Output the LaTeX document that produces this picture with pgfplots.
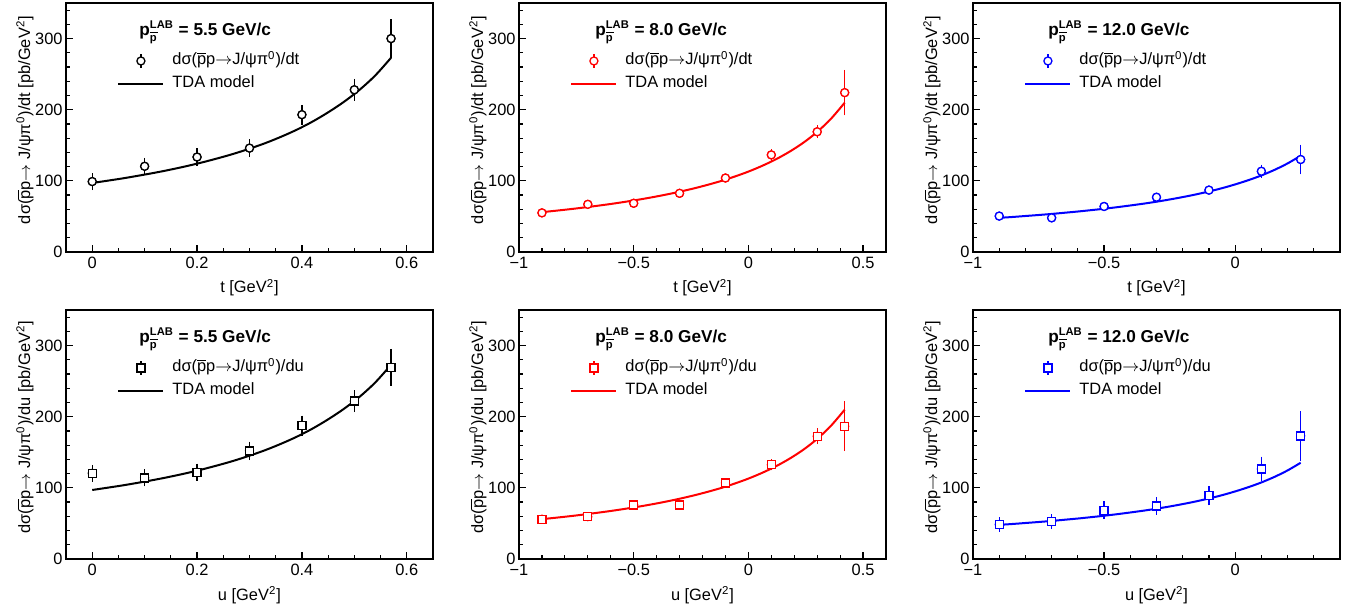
\documentclass[border=0pt]{standalone}
\usepackage{fontspec}
\setmainfont{Liberation Sans}
\usepackage{pgfplots}
\usepackage{pgfplotstable}
\pgfplotsset{compat=1.18}

\newcommand{\pbar}{\ensuremath{\overline{\mbox{p}}}}
\newcommand{\sm}{\fontsize{5.6}{6}\selectfont}
\newcommand{\arr}{\ensuremath{\rightarrow}}
\newcommand{\ylab}[1]{dσ(\pbar p\arr{} J/ψπ\textsuperscript{0})/d#1 [pb/GeV\textsuperscript{2}]}
\newcommand{\legtxt}[1]{dσ(\pbar p\arr J/ψπ\textsuperscript{0})/d#1}
\newcommand{\ttl}[1]{\fontsize{8.6}{10}\selectfont\bfseries p$^{\mbox{\sm\bfseries LAB}}_{\overline{\mbox{\sm\bfseries p}}}$ = #1 GeV/c}

\pgfplotstableread{
x y e
0 99 10
0.1 120.5 10
0.2 133.5 10.5
0.3 146 10.5
0.4 193 12
0.5 228 13.5
0.57 300 25
}\dtA
\pgfplotstableread{
x y e
-0.9 55 3
-0.7 67 3
-0.5 68.5 3
-0.3 82.5 3
-0.1 104 3.5
0.1 136.5 6
0.3 169 7
0.42 224 30
}\dtB
\pgfplotstableread{
x y e
-0.9 50.5 3
-0.7 48 3
-0.5 64 3
-0.3 77 3
-0.1 87 3.5
0.1 113.5 7.5
0.25 130 19
}\dtC
\pgfplotstableread{
x y e
0 120.5 10
0.1 114 10
0.2 122 10
0.3 152 11
0.4 187.5 12
0.5 222 13.5
0.57 269.5 24
}\duA
\pgfplotstableread{
x y e
-0.9 56 3
-0.7 59.5 3.5
-0.5 76 4
-0.3 76 5
-0.1 107 4.5
0.1 132.5 6
0.3 172.5 9
0.42 186.5 33
}\duB
\pgfplotstableread{
x y e
-0.9 48.5 8
-0.7 52.5 8.5
-0.5 68.5 10.5
-0.3 74.5 10.5
-0.1 89 11.5
0.1 126.5 15.5
0.25 173 33
}\duC
\pgfplotstableread{
x y
0 97
0.03 100.3
0.06 103.7
0.09 107.5
0.12 111.5
0.15 115.9
0.18 120.7
0.21 126
0.24 131.8
0.27 138.1
0.30 145.2
0.33 153
0.36 161.9
0.39 171.8
0.42 183.2
0.45 196.3
0.48 211
0.51 228
0.54 248.2
0.57 273
}\cA
\pgfplotstableread{
x y
-0.90 56.0
-0.84 58.0
-0.78 60.1
-0.72 62.4
-0.66 64.9
-0.60 67.5
-0.54 70.4
-0.48 73.5
-0.42 76.9
-0.36 80.6
-0.30 84.7
-0.24 89.2
-0.18 94.2
-0.12 99.7
-0.06 106.0
0.00 113.0
0.06 121.1
0.12 130.3
0.18 141.1
0.24 153.7
0.30 168.8
0.36 187.2
0.42 209.9
}\cB
\pgfplotstableread{
x y
-0.90 48.0
-0.85 49.2
-0.80 50.6
-0.75 52.0
-0.70 53.5
-0.65 55.2
-0.60 56.9
-0.55 58.8
-0.50 60.8
-0.45 63.0
-0.40 65.4
-0.35 67.9
-0.30 70.7
-0.25 73.8
-0.20 77.2
-0.15 80.9
-0.10 85.1
-0.05 89.7
0.00 95.0
0.05 100.9
0.10 107.6
0.15 115.4
0.20 124.5
0.25 135.3
}\cC

\pgfplotsset{
  panel/.style={
    scale only axis, width=183.5pt, height=124.5pt,
    anchor=north west,
    ymin=0, ymax=350,
    ytick={0,100,200,300}, yticklabels={0,100,200,300},
    minor ytick={20,40,60,80,120,140,160,180,220,240,260,280,320,340},
    tick align=inside, xtick pos=bottom, ytick pos=left,
    major tick length=3.5pt, minor tick length=2pt,
    every tick/.style={black, line width=0.6pt},
    axis line style={line width=0.65pt},
    yticklabel style={inner xsep=1.5pt},
    xticklabel style={inner ysep=2.5pt},
    xlabel style={at={(axis description cs:0.5,0)}, anchor=base, yshift=-20.5pt},
    ylabel style={at={(axis description cs:-0.112,0.53)}, anchor=center},
    legend cell align=left,
    legend style={at={(axis description cs:0.139,0.721)}, anchor=west,
      draw=none, fill=none, inner sep=0pt, column sep=4pt, row sep=2.5pt,
      nodes={inner xsep=0pt, inner ysep=0pt, text height=6.5pt, text depth=2.5pt}},
  },
  pA/.style={xmin=-0.05, xmax=0.65, xtick={0,0.2,0.4,0.6}, xticklabels={0,0.2,0.4,0.6},
    minor xtick={0.05,0.1,0.15,0.25,0.3,0.35,0.45,0.5,0.55}},
  pB/.style={xmin=-1, xmax=0.6, xtick={-1,-0.5,0,0.5}, xticklabels={−1,−0.5,0,0.5},
    minor xtick={-0.9,-0.8,-0.7,-0.6,-0.4,-0.3,-0.2,-0.1,0.1,0.2,0.3,0.4}},
  pC/.style={xmin=-1, xmax=0.4, xtick={-1,-0.5,0}, xticklabels={−1,−0.5,0},
    minor xtick={-0.9,-0.8,-0.7,-0.6,-0.4,-0.3,-0.2,-0.1,0.1,0.2,0.3}},
  errs/.style={#1, line width=0.6pt, only marks, mark=none, forget plot,
    error bars/y dir=both, error bars/y explicit,
    error bars/error bar style={#1, line width=0.6pt},
    error bars/error mark options={#1, mark size=0.7pt, line width=0.6pt}},
  dat/.style={draw=#1, color=#1, line width=0.65pt, only marks, mark size=2pt,
    mark options={draw=#1, fill=white, line width=0.65pt},
    legend image code/.code={
      \path (0pt,0pt) (22.5pt,0pt);
      \draw[#1, line width=0.6pt] (11.25pt,-3.3pt) -- (11.25pt,3.3pt);
      \draw[##1] plot coordinates {(11.25pt,0pt)};}},
  lineleg/.style={legend image code/.code={
      \draw[##1] (0pt,0pt) -- (22.5pt,0pt);}},
  crv/.style={#1, line width=1pt, smooth, no marks},
}

\begin{document}
\begin{tikzpicture}[font=\fontsize{8.2}{9.8}\selectfont]
\path[use as bounding box] (0,0) rectangle (675.5pt,-304.5pt);

% ---------- top row ----------
\begin{axis}[panel, pA, at={(33pt,-1.5pt)}, xlabel={t [GeV\textsuperscript{2}]}, ylabel={\ylab{t}}]
\addplot[errs=black] table[x=x, y=y, y error=e] {\dtA};
\addplot[dat=black, mark=*] table[x=x, y=y] {\dtA};
\addlegendentry{\legtxt{t}}
\addplot[crv=black, lineleg] table[x=x, y=y] {\cA};
\addlegendentry{TDA model}
\node[anchor=base west, inner sep=0pt] at (axis description cs:0.199,0.8675) {\ttl{5.5}};
\end{axis}

\begin{axis}[panel, pB, at={(259.5pt,-1.5pt)}, xlabel={t [GeV\textsuperscript{2}]}, ylabel={\ylab{t}}]
\addplot[errs=red] table[x=x, y=y, y error=e] {\dtB};
\addplot[dat=red, mark=*] table[x=x, y=y] {\dtB};
\addlegendentry{\legtxt{t}}
\addplot[crv=red, lineleg] table[x=x, y=y] {\cB};
\addlegendentry{TDA model}
\node[anchor=base west, inner sep=0pt] at (axis description cs:0.207,0.8675) {\ttl{8.0}};
\end{axis}

\begin{axis}[panel, pC, at={(486.5pt,-1.5pt)}, xlabel={t [GeV\textsuperscript{2}]}, ylabel={\ylab{t}}]
\addplot[errs=blue] table[x=x, y=y, y error=e] {\dtC};
\addplot[dat=blue, mark=*] table[x=x, y=y] {\dtC};
\addlegendentry{\legtxt{t}}
\addplot[crv=blue, lineleg] table[x=x, y=y] {\cC};
\addlegendentry{TDA model}
\node[anchor=base west, inner sep=0pt] at (axis description cs:0.204,0.8675) {\ttl{12.0}};
\end{axis}

% ---------- bottom row ----------
\begin{axis}[panel, pA, at={(33pt,-155pt)}, xlabel={u [GeV\textsuperscript{2}]}, ylabel={\ylab{u}}]
\addplot[errs=black] table[x=x, y=y, y error=e] {\duA};
\addplot[dat=black, mark=square*] table[x=x, y=y] {\duA};
\addlegendentry{\legtxt{u}}
\addplot[crv=black, lineleg] table[x=x, y=y] {\cA};
\addlegendentry{TDA model}
\node[anchor=base west, inner sep=0pt] at (axis description cs:0.199,0.8675) {\ttl{5.5}};
\end{axis}

\begin{axis}[panel, pB, at={(259.5pt,-155pt)}, xlabel={u [GeV\textsuperscript{2}]}, ylabel={\ylab{u}}]
\addplot[errs=red] table[x=x, y=y, y error=e] {\duB};
\addplot[dat=red, mark=square*] table[x=x, y=y] {\duB};
\addlegendentry{\legtxt{u}}
\addplot[crv=red, lineleg] table[x=x, y=y] {\cB};
\addlegendentry{TDA model}
\node[anchor=base west, inner sep=0pt] at (axis description cs:0.207,0.8675) {\ttl{8.0}};
\end{axis}

\begin{axis}[panel, pC, at={(486.5pt,-155pt)}, xlabel={u [GeV\textsuperscript{2}]}, ylabel={\ylab{u}}]
\addplot[errs=blue] table[x=x, y=y, y error=e] {\duC};
\addplot[dat=blue, mark=square*] table[x=x, y=y] {\duC};
\addlegendentry{\legtxt{u}}
\addplot[crv=blue, lineleg] table[x=x, y=y] {\cC};
\addlegendentry{TDA model}
\node[anchor=base west, inner sep=0pt] at (axis description cs:0.204,0.8675) {\ttl{12.0}};
\end{axis}
\end{tikzpicture}
\end{document}
